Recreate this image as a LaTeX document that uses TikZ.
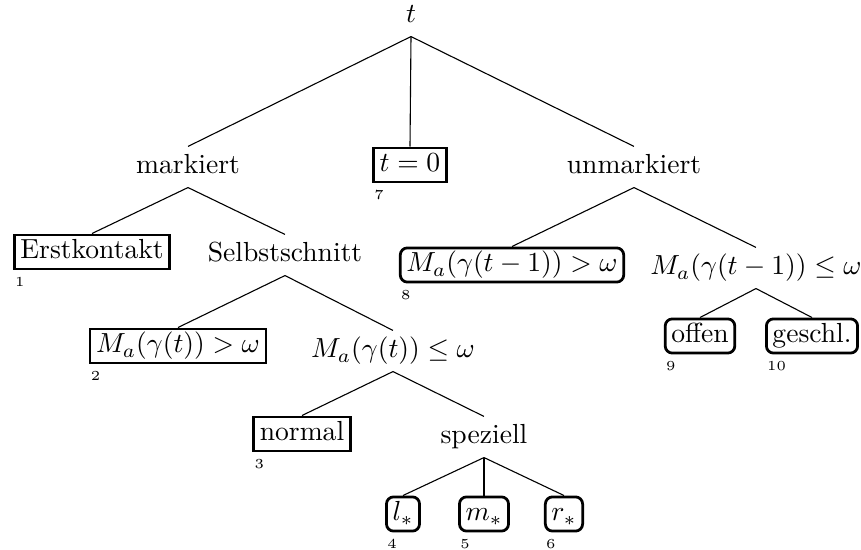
\documentclass[tikz,border=0pt]{standalone}
\begin{document}
\begin{tikzpicture}[x=0.3624pt,y=-0.3624pt,
  plain/.style={inner xsep=0pt, inner ysep=2.25pt, text height=7.5pt, text depth=2.5pt},
  sqbox/.style={draw, line width=1pt, inner xsep=2.2pt, inner ysep=1.2pt, text height=7.5pt, text depth=2.5pt},
  rbox/.style={sqbox, rounded corners=2.6pt},
  lab/.style={inner sep=0pt, anchor=north west, font=\fontsize{5}{6}\selectfont},
  edge/.style={line width=0.4pt}]
\useasboundingbox (0,0) rectangle (861,550);
% level 0
\node[plain] (t) at (411,16) {$t$};
% level 1
\node[plain] (mark) at (188,167) {markiert};
\node[sqbox] (t0) at (410,165) {$t=0$};
\node[plain] (unmark) at (634,167) {unmarkiert};
% level 2
\node[sqbox] (erst) at (92,252) {Erstkontakt};
\node[plain] (selbst) at (285,255) {Selbstschnitt};
\node[rbox] (mg1) at (512,265) {$M_a(\gamma(t-1))>\omega$};
\node[plain] (ml1) at (756,268) {$M_a(\gamma(t-1))\leq\omega$};
% level 3
\node[sqbox] (mg) at (178,346) {$M_a(\gamma(t))>\omega$};
\node[plain] (ml) at (393,351) {$M_a(\gamma(t))\leq\omega$};
\node[rbox] (offen) at (700,336) {offen};
\node[rbox] (geschl) at (812,336) {geschl.};
% level 4
\node[sqbox] (normal) at (302,434) {normal};
\node[plain] (spez) at (484,437) {speziell};
% level 5
\node[rbox] (lstar) at (403,514) {$l_*$};
\node[rbox] (mstar) at (484,514) {$m_*$};
\node[rbox] (rstar) at (564,514) {$r_*$};
% edges
\draw[edge] (t.south) -- (mark.north);
\draw[edge] (t.south) -- (t0.north);
\draw[edge] (t.south) -- (unmark.north);
\draw[edge] (mark.south) -- (erst.north);
\draw[edge] (mark.south) -- (selbst.north);
\draw[edge] (unmark.south) -- (mg1.north);
\draw[edge] (unmark.south) -- (ml1.north);
\draw[edge] (selbst.south) -- (mg.north);
\draw[edge] (selbst.south) -- (ml.north);
\draw[edge] (ml1.south) -- (offen.north);
\draw[edge] (ml1.south) -- (geschl.north);
\draw[edge] (ml.south) -- (normal.north);
\draw[edge] (ml.south) -- (spez.north);
\draw[edge] (spez.south) -- (lstar.north);
\draw[edge] (spez.south) -- (mstar.north);
\draw[edge] (spez.south) -- (rstar.north);
% labels
\node[lab] (n1) at ([xshift=0.6pt,yshift=-2.2pt]erst.south west) {1};
\node[lab] (n2) at ([xshift=0.6pt,yshift=-2.2pt]mg.south west) {2};
\node[lab] (n3) at ([xshift=0.6pt,yshift=-2.2pt]normal.south west) {3};
\node[lab] (n4) at ([xshift=0.6pt,yshift=-2.2pt]lstar.south west) {4};
\node[lab] (n5) at ([xshift=0.6pt,yshift=-2.2pt]mstar.south west) {5};
\node[lab] (n6) at ([xshift=0.6pt,yshift=-2.2pt]rstar.south west) {6};
\node[lab] (n7) at ([xshift=0.6pt,yshift=-2.2pt]t0.south west) {7};
\node[lab] (n8) at ([xshift=0.6pt,yshift=-2.2pt]mg1.south west) {8};
\node[lab] (n9) at ([xshift=0.6pt,yshift=-2.2pt]offen.south west) {9};
\node[lab] (n10) at ([xshift=0.6pt,yshift=-2.2pt]geschl.south west) {10};
\end{tikzpicture}
\end{document}
